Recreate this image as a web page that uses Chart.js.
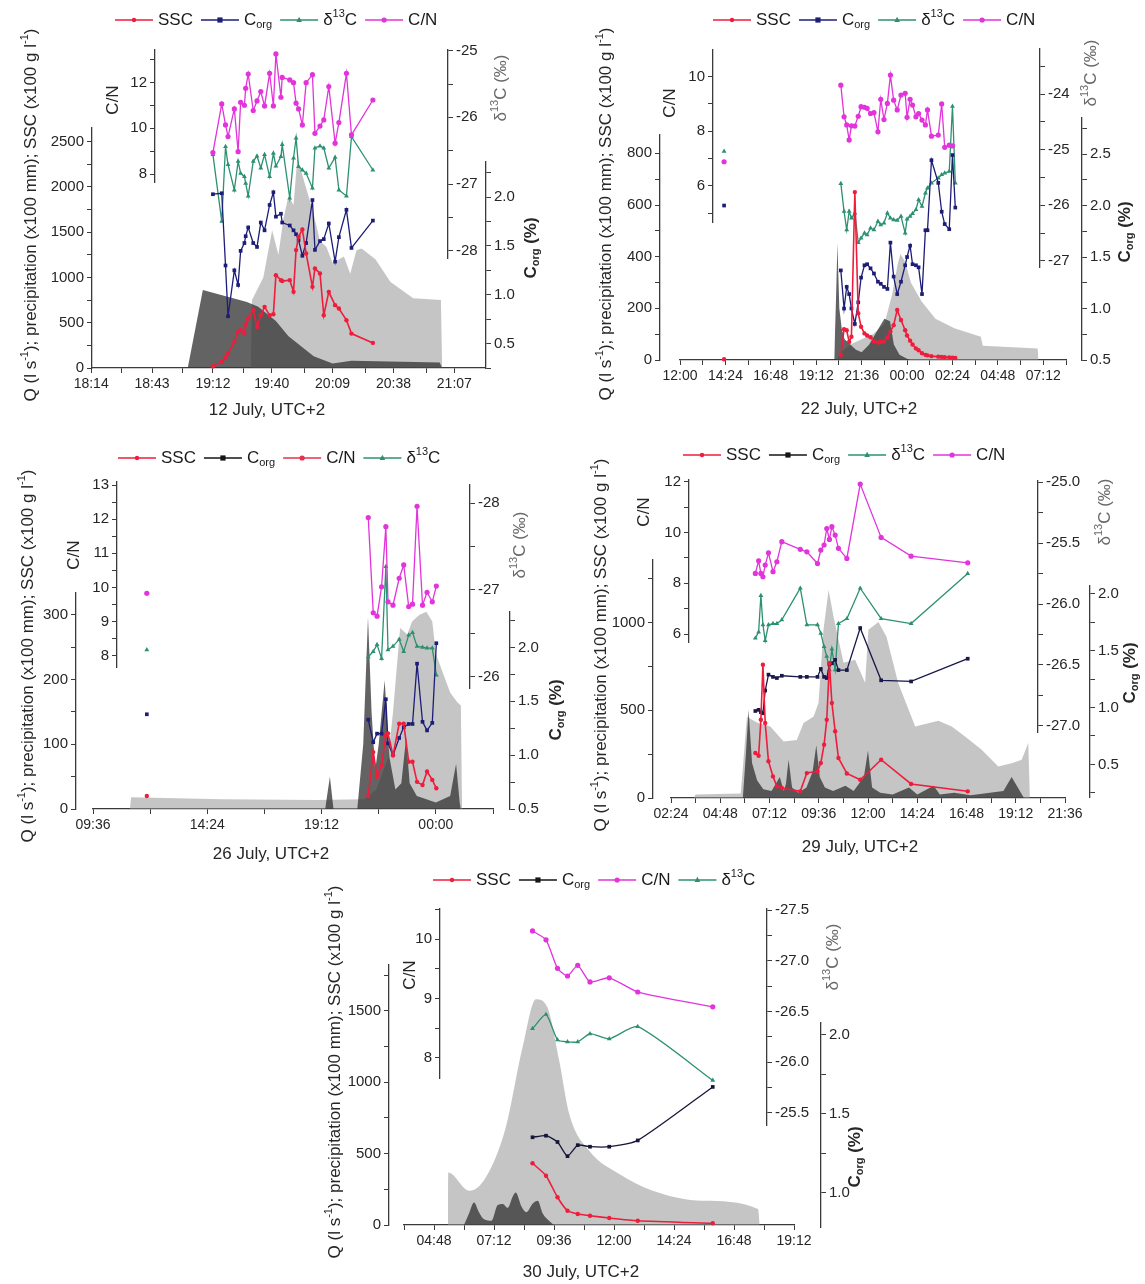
<!DOCTYPE html>
<html>
<head>
<meta charset="utf-8">
<script src="https://cdn.jsdelivr.net/npm/chart.js@4.4.1/dist/chart.umd.min.js"></script>
<style>
  html, body { margin: 0; padding: 0; background: #fff; }
  #wrap { position: relative; width: 1145px; height: 1284px; overflow: hidden; }
  #wrap canvas { position: absolute; left: 0; top: 0; }
</style>
</head>
<body>
<div id="wrap">
  <canvas id="c1" width="1145" height="1284"></canvas>
  <canvas id="c2" width="1145" height="1284"></canvas>
  <canvas id="c3" width="1145" height="1284"></canvas>
  <canvas id="c4" width="1145" height="1284"></canvas>
  <canvas id="c5" width="1145" height="1284"></canvas>
</div>
<script>
// --- 12 July ---
const xLabels1 = ['18:14', '18:43', '19:12', '19:40', '20:09', '20:38', '21:07'];
const t1 = [19.20, 19.27, 19.30, 19.32, 19.37, 19.40, 19.42, 19.45, 19.46, 19.48, 19.52, 19.55, 19.58, 19.61, 19.65, 19.68, 19.70, 19.74, 19.75, 19.81, 19.84, 19.86, 19.88, 19.91, 19.94, 19.99, 20.01, 20.05, 20.08, 20.12, 20.17, 20.20, 20.26, 20.30, 20.47];
const ssc1 = [19, 67, 114, 160, 288, 399, 420, 380, 480, 546, 638, 454, 583, 675, 583, 594, 1025, 970, 960, 970, 841, 1302, 1449, 1530, 1265, 896, 1100, 1044, 583, 841, 694, 657, 528, 380, 277];
const corg1 = [2.03, 2.04, 1.30, 0.78, 1.25, 1.10, 1.45, 1.53, 1.60, 1.69, 1.53, 1.49, 1.74, 1.66, 1.92, 2.05, 1.80, 1.83, 1.74, 1.71, 1.66, 1.62, 1.56, 1.40, 1.53, 1.97, 1.46, 1.55, 1.57, 1.73, 1.34, 1.59, 1.87, 1.48, 1.76];
const d13c1 = [-26.56, -27.56, -26.44, -26.71, -27.09, -26.66, -26.84, -26.89, -26.99, -27.18, -26.66, -26.58, -26.76, -26.56, -26.89, -26.54, -26.73, -26.59, -26.41, -27.21, -26.61, -26.31, -26.74, -26.79, -26.84, -27.06, -26.46, -26.43, -26.46, -26.76, -26.60, -27.09, -27.18, -26.29, -26.79];
const cn1 = [8.94, 11.07, 10.15, 9.64, 10.85, 8.98, 11.14, 11.01, 11.75, 12.38, 10.78, 11.20, 11.61, 10.98, 12.41, 10.98, 13.26, 11.36, 12.23, 12.12, 12.00, 11.10, 10.85, 10.15, 12.00, 12.35, 9.78, 10.10, 10.37, 11.83, 9.35, 10.25, 12.41, 9.71, 11.24];
const qT1 = [19.50, 19.51, 19.60, 19.67, 19.72, 19.76, 19.80, 19.84, 19.87, 19.92, 19.96, 20.00, 20.05, 20.10, 20.15, 20.24, 20.29, 20.34, 20.38, 20.49, 20.61, 20.79, 21.01, 21.02];
const q1 = [0, 750, 1000, 1520, 1250, 1650, 1900, 1800, 2320, 2080, 1890, 1700, 1400, 1340, 1160, 1230, 1040, 1300, 1320, 1200, 950, 770, 750, 0];
const pT1 = [19.00, 19.12, 19.47, 19.56, 19.70, 19.80, 20.00, 20.15, 20.30, 21.00, 21.02];
const p1 = [0, 860, 730, 675, 520, 350, 130, 50, 80, 60, 0];

// --- 22 July (hours past midnight of 22 July) ---
const xLabels2 = ['12:00', '14:24', '16:48', '19:12', '21:36', '00:00', '02:24', '04:48', '07:12'];
const t2 = [14.33, 20.50, 20.67, 20.81, 20.94, 21.06, 21.24, 21.42, 21.57, 21.75, 21.89, 22.07, 22.25, 22.46, 22.61, 22.78, 22.96, 23.12, 23.29, 23.48, 23.68, 23.90, 24.00, 24.16, 24.29, 24.47, 24.61, 24.79, 24.97, 25.08, 25.29, 25.65, 25.83, 25.99, 26.23, 26.40, 26.55];
const ssc2 = [3, 19, 119, 115, 70, 90, 650, 181, 129, 103, 95, 88, 72, 68, 70, 72, 88, 110, 135, 194, 155, 115, 95, 75, 60, 45, 38, 26, 20, 18, 15, 13, 12, 11, 10, 9, 8];
const corg2 = [2.00, 1.37, 1.00, 1.21, 1.14, 1.00, 0.85, 1.06, 1.30, 1.42, 1.43, 1.39, 1.34, 1.26, 1.24, 1.21, 1.19, 1.64, 1.31, 1.14, 1.26, 1.42, 1.50, 1.61, 1.43, 1.42, 1.40, 1.14, 1.76, 1.76, 2.44, 2.22, 1.94, 1.82, 1.77, 2.49, 1.98];
const d13c2 = [-25.03, -25.61, -26.11, -26.44, -26.11, -26.23, -26.14, -26.67, -26.59, -26.50, -26.53, -26.41, -26.44, -26.29, -26.35, -26.32, -26.14, -26.23, -26.26, -26.27, -26.20, -26.50, -26.25, -26.20, -26.15, -26.08, -25.90, -26.02, -25.78, -25.69, -25.60, -25.51, -25.45, -25.42, -25.39, -24.22, -25.60];
const cn2 = [6.88, 9.69, 8.53, 8.23, 7.68, 8.20, 8.19, 8.55, 8.90, 8.88, 8.84, 8.65, 8.68, 7.98, 9.17, 8.43, 9.02, 10.06, 9.14, 8.78, 9.33, 9.39, 8.51, 9.17, 8.96, 8.53, 8.65, 8.41, 8.23, 8.78, 7.82, 7.86, 9.00, 7.41, 7.49, 7.46, null];
const qT2 = [20.30, 20.50, 21.00, 21.60, 22.20, 22.80, 23.20, 23.50, 23.65, 23.90, 24.20, 24.77, 25.50, 26.50, 27.90, 28.00, 30.90, 30.95];
const q2 = [0, 30, 60, 80, 100, 140, 250, 370, 410, 380, 300, 226, 160, 123, 90, 55, 45, 0];
const pT2 = [20.15, 20.25, 20.32, 20.42, 20.55, 20.70, 21.00, 21.30, 21.60, 22.00, 22.40, 22.80, 23.10, 23.30, 23.60, 24.00, 24.20];
const p2 = [0, 250, 453, 200, 120, 80, 60, 40, 30, 60, 110, 160, 150, 60, 20, 5, 0];

// --- 26 July ---
const xLabels3 = ['09:36', '14:24', '19:12', '00:00'];
const t3 = [11.86, 21.16, 21.37, 21.53, 21.72, 21.90, 21.99, 22.20, 22.46, 22.65, 22.86, 23.02, 23.21, 23.44, 23.63, 23.85, 24.02];
const ssc3 = [20, 20, 88, 50, 68, 113, 117, 83, 132, 132, 73, 73, 42, 37, 58, 45, 32];
const corg3 = [1.38, 1.33, 1.12, 1.20, 1.20, 1.52, 1.11, 1.00, 1.16, 1.26, 1.29, 1.29, 1.85, 1.31, 1.23, 1.30, 2.04];
const d13c3 = [-26.31, -26.23, -26.29, -26.37, -26.21, -27.27, -26.31, -26.35, -26.43, -26.29, -26.48, -26.51, -26.35, -26.34, -26.33, -26.33, -26.02];
const cn3 = [9.83, 12.05, 9.26, 9.16, 10.02, 11.78, 9.58, 9.48, 10.27, 10.66, 9.44, 9.51, 12.38, 9.48, 9.86, 9.58, 10.04];
const qT3 = [11.15, 11.20, 15.00, 19.00, 21.00, 21.50, 22.00, 22.20, 22.50, 22.80, 23.00, 23.30, 23.60, 23.85, 24.00, 24.30, 24.60, 24.90, 25.05, 25.10];
const q3 = [0, 18, 15, 14, 15, 30, 80, 150, 280, 270, 290, 300, 305, 290, 240, 210, 180, 165, 160, 0];
const pT3 = [19.35, 19.55, 19.70, 20.70, 20.95, 21.15, 21.30, 21.45, 21.60, 21.85, 22.05, 22.30, 22.55, 22.75, 22.90, 23.20, 24.00, 24.60, 24.85, 25.00, 25.05];
const p3 = [0, 50, 0, 0, 100, 297, 150, 60, 100, 199, 80, 30, 40, 110, 40, 20, 10, 20, 70, 10, 0];

// --- 29 July ---
const xLabels4 = ['02:24', '04:48', '07:12', '09:36', '12:00', '14:24', '16:48', '19:12', '21:36'];
const t4 = [6.51, 6.67, 6.78, 6.88, 6.99, 7.15, 7.37, 7.56, 7.80, 8.70, 9.02, 9.54, 9.70, 9.86, 9.99, 10.12, 10.24, 10.40, 10.56, 10.97, 11.62, 12.64, 14.10, 16.86];
const ssc4 = [256, 241, 446, 759, 427, 209, 123, 66, 57, 38, 142, 152, 199, 304, 446, 768, 541, 380, 228, 140, 104, 218, 80, 38];
const corg4 = [0.97, 0.98, 0.96, 0.95, 1.15, 1.29, 1.27, 1.26, 1.28, 1.27, 1.27, 1.27, 1.34, 1.27, 1.26, 1.38, 1.39, 1.42, 1.33, 1.33, 1.70, 1.24, 1.23, 1.43];
const d13c4 = [-26.28, -26.23, -25.93, -26.17, -26.30, -26.17, -26.16, -26.16, -26.13, -25.87, -26.17, -26.17, -26.24, -26.35, -26.43, -26.54, -26.37, -26.54, -26.16, -26.12, -25.87, -26.12, -26.16, -25.75];
const cn4 = [8.39, 8.89, 8.39, 8.26, 8.72, 9.20, 8.46, 8.85, 9.64, 9.34, 9.24, 8.78, 9.31, 9.51, 10.16, 9.73, 10.23, 9.90, 9.38, 8.98, 11.91, 9.81, 9.07, 8.81];
const qT4 = [3.50, 3.60, 5.80, 6.10, 6.59, 7.24, 7.89, 8.53, 8.86, 9.35, 9.59, 9.83, 10.08, 10.32, 10.81, 11.37, 11.86, 12.02, 12.51, 12.90, 13.48, 14.30, 15.43, 16.08, 16.73, 17.54, 18.35, 19.00, 19.49, 19.81, 19.89];
const q4 = [0, 20, 25, 463, 430, 408, 322, 330, 428, 464, 542, 958, 1185, 1033, 770, 788, 656, 958, 1003, 919, 653, 408, 440, 408, 351, 275, 179, 198, 218, 313, 0];
const pT4 = [5.90, 6.05, 6.18, 6.35, 6.60, 6.90, 7.30, 7.70, 7.90, 8.00, 8.13, 8.30, 8.60, 9.00, 9.30, 9.48, 9.65, 9.90, 10.30, 10.90, 11.30, 11.80, 12.00, 12.20, 12.60, 13.20, 14.00, 14.40, 15.20, 15.50, 16.20, 17.00, 18.60, 19.00, 19.40, 19.60];
const p4 = [0, 250, 503, 200, 100, 50, 40, 120, 40, 80, 218, 60, 30, 60, 150, 300, 120, 60, 40, 70, 40, 120, 270, 60, 30, 20, 60, 20, 70, 20, 30, 15, 40, 120, 40, 0];

// --- 30 July ---
const xLabels5 = ['04:48', '07:12', '09:36', '12:00', '14:24', '16:48', '19:12'];
const t5 = [8.74, 9.28, 9.74, 10.14, 10.55, 11.04, 11.81, 12.95, 15.95];
const ssc5 = [432, 345, 194, 100, 77, 65, 49, 30, 12];
const corg5 = [1.35, 1.36, 1.32, 1.23, 1.30, 1.29, 1.29, 1.33, 1.67];
const d13c5 = [-26.33, -26.47, -26.22, -26.20, -26.20, -26.28, -26.23, -26.35, -25.82];
const cn5 = [10.14, 9.99, 9.51, 9.38, 9.56, 9.28, 9.35, 9.11, 8.86];
const qT5 = [5.36, 5.37, 6.22, 6.87, 7.67, 8.34, 8.88, 9.34, 9.81, 10.21, 11.01, 12.21, 13.55, 15.55, 17.76, 17.83];
const q5 = [0, 368, 240, 333, 683, 1243, 1581, 1523, 1150, 777, 520, 357, 240, 170, 112, 0];
const pT5 = [6.00, 6.20, 6.40, 6.60, 6.80, 7.10, 7.35, 7.55, 7.75, 7.95, 8.07, 8.30, 8.50, 8.75, 8.95, 9.15, 9.40, 9.60];
const p5 = [0, 80, 158, 90, 40, 30, 140, 147, 120, 200, 228, 130, 90, 150, 170, 80, 30, 0];

// --- styling ---
const FONT = "'Liberation Sans', Arial, Helvetica, sans-serif";
const AXIS = '#3a3a3a';
const TEXT = '#262626';
const COL = { ssc: '#ef1d3c', corg: '#1d1d78', d13c: '#2c9072', cn: '#e234da' };
const WIDTH = { ssc: 1.6, corg: 1.3, d13c: 1.3, cn: 1.3 };
const MARK = { ssc: ['circle', 2.2], corg: ['rect', 2.6], d13c: ['triangle', 2.8], cn: ['circle', 2.6] };
const LABEL = { ssc: 'SSC', corg: 'C_{org}', d13c: 'δ^{13}C', cn: 'C/N' };
const TITLE = {
  y: 'Q (l s^{-1}); precipitation (x100 mm); SSC (x100 g l^{-1})',
  cn: 'C/N', d13c: 'δ^{13}C (‰)', corg: 'C_{org} (%)'
};

const panels = [
  {
    id: 'c1', box: [92, 50, 486, 368], date: '12 July, UTC+2', xt: [267, 410],
    x: { left: 92, right: 485, y: 368, min: 18.24, max: 21.36, labels: xLabels1 },
    y: { side: 'left', at: 92, top: 128, bottom: 368, min: 0, max: 2650, minor: 250, major: 500, dec: 0, tp: [31, 215] },
    cn: { side: 'left', at: 155, top: 50, bottom: 182, min: 7.65, max: 13.43, minor: 1, major: 2, dec: 0, tp: [113, 100] },
    d13c: { side: 'right', at: 448, top: 50, bottom: 258, min: -28.11, max: -24.99, minor: 0.5, major: 1, dec: 0, tp: [501, 88] },
    corg: { side: 'right', at: 486, top: 162, bottom: 368, min: 0.25, max: 2.36, minor: 0.25, major: 0.5, dec: 1, tp: [531, 248] },
    legend: { x: 115, y: 20, keys: ['ssc', 'corg', 'd13c', 'cn'] },
    data: { t: t1, ssc: ssc1, corg: corg1, d13c: d13c1, cn: cn1, qT: qT1, q: q1, pT: pT1, p: p1 }
  },
  {
    id: 'c2', box: [660, 49, 1082, 360], date: '22 July, UTC+2', xt: [859, 409],
    x: { left: 680, right: 1066, y: 360, min: 12.0, max: 32.4, labels: xLabels2 },
    y: { side: 'left', at: 660, top: 135, bottom: 360, min: 0, max: 871, minor: 100, major: 200, dec: 0, tp: [606, 214] },
    cn: { side: 'left', at: 713, top: 50, bottom: 222, min: 4.67, max: 10.98, minor: 1, major: 2, dec: 0, tp: [670, 103] },
    d13c: { side: 'right', at: 1040, top: 49, bottom: 267, min: -27.11, max: -23.19, minor: 0.5, major: 1, dec: 0, tp: [1091, 73] },
    corg: { side: 'right', at: 1082, top: 118, bottom: 360, min: 0.5, max: 2.85, minor: 0.25, major: 0.5, dec: 1, tp: [1125, 232] },
    legend: { x: 713, y: 20, keys: ['ssc', 'corg', 'd13c', 'cn'] },
    data: { t: t2, ssc: ssc2, corg: corg2, d13c: d13c2, cn: cn2, qT: qT2, q: q2, pT: pT2, p: p2 }
  },
  {
    id: 'c3', box: [76, 481, 510, 809], date: '26 July, UTC+2', xt: [271, 854],
    x: { left: 93, right: 493, y: 809, min: 9.6, max: 26.4, labels: xLabels3 },
    y: { side: 'left', at: 76, top: 593, bottom: 809, min: 0, max: 334, minor: 50, major: 100, dec: 0, tp: [28, 656] },
    cn: { side: 'left', at: 117, top: 482, bottom: 667, min: 7.67, max: 13.09, minor: 0.5, major: 1, dec: 0, tp: [74, 555] },
    d13c: { side: 'right', at: 470, top: 485, bottom: 688, min: -28.21, max: -25.87, minor: 0.5, major: 1, dec: 0, reverse: true, tp: [520, 545] },
    corg: { side: 'right', at: 510, top: 612, bottom: 809, min: 0.5, max: 2.33, minor: 0.25, major: 0.5, dec: 1, tp: [556, 710] },
    legend: { x: 118, y: 458, keys: ['ssc', 'corg', 'cn', 'd13c'] },
    legendColors: { corg: '#151515', cn: '#e8304a' },
    data: { t: t3, ssc: ssc3, corg: corg3, d13c: d13c3, cn: cn3, qT: qT3, q: q3, pT: pT3, p: p3 }
  },
  {
    id: 'c4', box: [653, 480, 1090, 798], date: '29 July, UTC+2', xt: [860, 847],
    x: { left: 671, right: 1065, y: 798, min: 2.4, max: 21.6, labels: xLabels4 },
    y: { side: 'left', at: 653, top: 560, bottom: 798, min: 0, max: 1356, minor: 250, major: 500, dec: 0, tp: [601, 645] },
    cn: { side: 'left', at: 689, top: 480, bottom: 642, min: 5.69, max: 12.07, minor: 1, major: 2, dec: 0, tp: [644, 512] },
    d13c: { side: 'right', at: 1038, top: 481, bottom: 732, min: -27.05, max: -24.99, minor: 0.25, major: 0.5, dec: 1, tp: [1105, 512] },
    corg: { side: 'right', at: 1090, top: 586, bottom: 797, min: 0.213, max: 2.07, minor: 0.25, major: 0.5, dec: 1, tp: [1130, 673] },
    legend: { x: 683, y: 455, keys: ['ssc', 'corg', 'd13c', 'cn'] },
    colors: { corg: '#18184a' },
    legendColors: { corg: '#151515' },
    data: { t: t4, ssc: ssc4, corg: corg4, d13c: d13c4, cn: cn4, qT: qT4, q: q4, pT: pT4, p: p4 }
  },
  {
    id: 'c5', box: [389, 909, 821, 1227], date: '30 July, UTC+2', xt: [581, 1272],
    x: { left: 404, right: 794, y: 1225, min: 3.6, max: 19.2, labels: xLabels5 },
    y: { side: 'left', at: 389, top: 965, bottom: 1225, min: 0, max: 1820, minor: 250, major: 500, dec: 0, tp: [335, 1072] },
    cn: { side: 'left', at: 440, top: 909, bottom: 1078, min: 7.66, max: 10.51, minor: 0.5, major: 1, dec: 0, tp: [410, 975] },
    d13c: { side: 'right', at: 767, top: 909, bottom: 1125, min: -27.51, max: -25.38, minor: 0.25, major: 0.5, dec: 1, reverse: true, tp: [833, 957] },
    corg: { side: 'right', at: 821, top: 1023, bottom: 1227, min: 0.78, max: 2.076, minor: 0.25, major: 0.5, dec: 1, tp: [855, 1157] },
    legend: { x: 433, y: 880, keys: ['ssc', 'corg', 'cn', 'd13c'] },
    colors: { corg: '#161638' },
    legendColors: { corg: '#151515' },
    smooth: true,
    data: { t: t5, ssc: ssc5, corg: corg5, d13c: d13c5, cn: cn5, qT: qT5, q: q5, pT: pT5, p: p5 }
  }
];

// --- helpers ---
function labelHours(labels) {
  let day = 0, prev = -1;
  return labels.map(s => {
    const [h, m] = s.split(':').map(Number);
    let v = h + m / 60 + day;
    if (v < prev) { day += 24; v += 24; }
    prev = v;
    return v;
  });
}

function xTickList(ax) {
  const major = labelHours(ax.labels);
  const half = (major[1] - major[0]) / 2;
  const out = [];
  let v = major[0];
  while (v - half >= ax.min - 1e-6) v -= half;
  for (; v <= ax.max + 1e-6; v += half) {
    const i = major.findIndex(m => Math.abs(m - v) < half / 4);
    out.push({ value: i >= 0 ? major[i] : v, label: i >= 0 ? ax.labels[i] : '' });
  }
  return out;
}

function stepTicks(min, max, step) {
  const out = [];
  for (let k = Math.ceil(min / step - 1e-9); k * step <= max + 1e-9; k++) {
    out.push({ value: +(k * step).toFixed(6) });
  }
  return out;
}

const isMultiple = (v, m) => Math.abs(v / m - Math.round(v / m)) < 1e-6;

function series(times, vals) {
  return times.map((t, i) => ({ x: t, y: vals[i] })).filter(p => p.y !== null && p.y !== undefined);
}

function richParts(str) {
  const parts = [];
  const re = /([_^])\{([^}]*)\}/g;
  let last = 0, m;
  while ((m = re.exec(str))) {
    if (m.index > last) parts.push({ t: str.slice(last, m.index) });
    parts.push({ t: m[2], k: m[1] === '_' ? 'sub' : 'sup' });
    last = re.lastIndex;
  }
  if (last < str.length) parts.push({ t: str.slice(last) });
  return parts;
}

// draws text with sub/superscripts; returns its width
function drawRich(ctx, str, x, y, opt) {
  const size = opt.size;
  const weight = opt.weight || 'normal';
  const parts = richParts(str);
  const fontFor = p => `${weight} ${p.k ? Math.round(size * 0.64) : size}px ${FONT}`;
  let w = 0;
  parts.forEach(p => { ctx.font = fontFor(p); p.w = ctx.measureText(p.t).width; w += p.w; });
  ctx.save();
  ctx.translate(x, y);
  if (opt.rot) ctx.rotate(opt.rot);
  ctx.fillStyle = opt.color || TEXT;
  ctx.textBaseline = 'middle';
  ctx.textAlign = 'left';
  let cx = opt.align === 'left' ? 0 : -w / 2;
  parts.forEach(p => {
    ctx.font = fontFor(p);
    const dy = p.k === 'sub' ? size * 0.32 : p.k === 'sup' ? -size * 0.34 : 0;
    ctx.fillText(p.t, cx, dy);
    cx += p.w;
  });
  ctx.restore();
  return w;
}

function drawMarker(ctx, style, r, x, y, color) {
  ctx.save();
  ctx.fillStyle = color;
  ctx.beginPath();
  if (style === 'rect') ctx.rect(x - r, y - r, 2 * r, 2 * r);
  else if (style === 'triangle') { ctx.moveTo(x, y - r * 1.2); ctx.lineTo(x + r, y + r * 0.7); ctx.lineTo(x - r, y + r * 0.7); ctx.closePath(); }
  else ctx.arc(x, y, r, 0, Math.PI * 2);
  ctx.fill();
  ctx.restore();
}

function yScale(a) {
  return {
    type: 'linear', position: a.side, min: a.min, max: a.max, reverse: !!a.reverse,
    afterFit: s => { s.width = 0; },
    afterBuildTicks: s => { s.ticks = stepTicks(a.min, a.max, a.minor); },
    grid: { display: true, drawOnChartArea: false, drawTicks: true, tickLength: 5, color: AXIS, lineWidth: 1 },
    border: { display: true, color: AXIS, width: 1.3 },
    ticks: {
      autoSkip: false, padding: 3, color: TEXT, font: { family: FONT, size: 15 },
      callback: v => isMultiple(v, a.major) ? v.toFixed(a.dec) : ''
    },
    title: { display: false }
  };
}

// puts every axis at its own spot inside the panel, then draws titles and the legend
function panelPlugin(P) {
  return {
    id: 'panelLayout',
    afterLayout(chart) {
      const s = chart.scales;
      const X = P.x;
      Object.assign(s.x, { left: X.left, right: X.right, top: X.y, bottom: X.y + 40, width: X.right - X.left, height: 40 });
      s.x.configure();
      ['y', 'cn', 'd13c', 'corg'].forEach(id => {
        const a = P[id], sc = s[id], w = 50;
        if (a.side === 'left') Object.assign(sc, { right: a.at, left: a.at - w });
        else Object.assign(sc, { left: a.at, right: a.at + w });
        Object.assign(sc, { top: a.top, bottom: a.bottom, width: w, height: a.bottom - a.top });
        sc.configure();
      });
    },
    afterDraw(chart) {
      const ctx = chart.ctx;
      const up = -Math.PI / 2;
      drawRich(ctx, TITLE.y, P.y.tp[0], P.y.tp[1], { size: 17, rot: up });
      drawRich(ctx, TITLE.cn, P.cn.tp[0], P.cn.tp[1], { size: 17, rot: up });
      drawRich(ctx, TITLE.d13c, P.d13c.tp[0], P.d13c.tp[1], { size: 17, rot: up, color: '#6a6a6a' });
      drawRich(ctx, TITLE.corg, P.corg.tp[0], P.corg.tp[1], { size: 17, rot: up, weight: 'bold' });
      drawRich(ctx, P.date, P.xt[0], P.xt[1], { size: 17 });
      let lx = P.legend.x;
      const ly = P.legend.y;
      P.legend.keys.forEach(k => {
        const c = (P.legendColors && P.legendColors[k]) || P.col[k];
        ctx.save();
        ctx.strokeStyle = c;
        ctx.lineWidth = 1.3;
        ctx.beginPath(); ctx.moveTo(lx, ly); ctx.lineTo(lx + 38, ly); ctx.stroke();
        ctx.restore();
        drawMarker(ctx, MARK[k][0], MARK[k][1], lx + 19, ly, c);
        const w = drawRich(ctx, LABEL[k], lx + 43, ly, { size: 17, align: 'left', color: '#1a1a1a' });
        lx += 43 + w + 8;
      });
    }
  };
}

function makeChart(P) {
  P.col = Object.assign({}, COL, P.colors || {});
  const D = P.data;
  const xt = xTickList(P.x);
  const line = (key, order) => ({
    label: LABEL[key], data: series(D.t, D[key]), yAxisID: key === 'ssc' ? 'y' : key,
    borderColor: P.col[key], backgroundColor: P.col[key], borderWidth: WIDTH[key],
    pointStyle: MARK[key][0], pointRadius: MARK[key][1], pointBorderWidth: 0,
    spanGaps: 3, tension: P.smooth ? 0.2 : 0,
    fill: false, order, clip: false
  });
  const area = (times, vals, color, order) => ({
    label: '', data: series(times, vals), yAxisID: 'y', fill: 'origin',
    backgroundColor: color, borderWidth: 0, pointRadius: 0, order,
    tension: P.smooth ? 0.4 : 0, cubicInterpolationMode: P.smooth ? 'monotone' : 'default'
  });
  const [bl, bt, br, bb] = P.box;
  return new Chart(document.getElementById(P.id), {
    type: 'line',
    data: {
      datasets: [
        line('cn', 0), line('ssc', 1), line('corg', 2), line('d13c', 3),
        area(D.pT, D.p, 'rgba(55,55,55,0.78)', 5),
        area(D.qT, D.q, 'rgba(150,150,150,0.55)', 6)
      ]
    },
    options: {
      responsive: false, animation: false, devicePixelRatio: 1, events: [],
      layout: { padding: { left: bl, top: bt, right: 1145 - br, bottom: 1284 - bb } },
      plugins: { legend: { display: false }, tooltip: { enabled: false } },
      scales: {
        x: {
          type: 'linear', position: 'bottom', min: P.x.min, max: P.x.max,
          afterFit: s => { s.height = 0; },
          afterBuildTicks: s => { s.ticks = xt.map(o => ({ value: o.value })); },
          grid: { display: true, drawOnChartArea: false, drawTicks: true, tickLength: 5, color: AXIS, lineWidth: 1 },
          border: { display: true, color: AXIS, width: 1.3 },
          ticks: {
            autoSkip: false, maxRotation: 0, padding: 3, color: TEXT, font: { family: FONT, size: 14 },
            callback: (v, i) => xt[i] ? xt[i].label : ''
          }
        },
        y: yScale(P.y), cn: yScale(P.cn), d13c: yScale(P.d13c), corg: yScale(P.corg)
      }
    },
    plugins: [panelPlugin(P)]
  });
}

panels.forEach(makeChart);
</script>
</body>
</html>
